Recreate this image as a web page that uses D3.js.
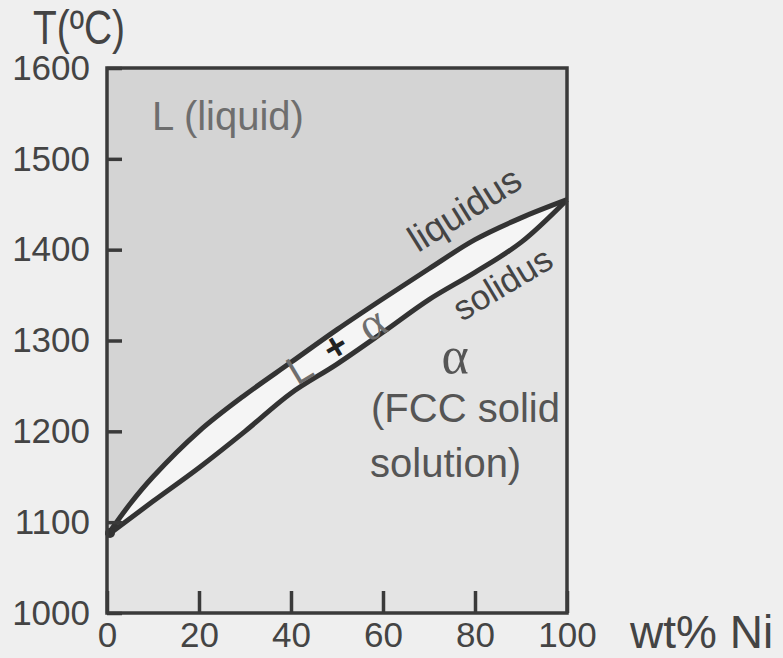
<!DOCTYPE html>
<html>
<head>
<meta charset="utf-8">
<script src="https://cdn.jsdelivr.net/npm/d3@7"></script>
<style>
  html, body { margin: 0; padding: 0; background: #efefef; }
  svg { display: block; }
</style>
</head>
<body>
<svg id="chart" width="783" height="658"></svg>
<script>
// Cu-Ni phase diagram
const wtNi      = [0, 5, 10, 20, 30, 40, 50, 60, 70, 80, 90, 100];
const liquidusT = [1085, 1120, 1150, 1200, 1240, 1276, 1312, 1346, 1379, 1411, 1435, 1455];
const solidusT  = [1085, 1104, 1123, 1160, 1200, 1242, 1274, 1309, 1345, 1375, 1408, 1455];

const xTicks = [0, 20, 40, 60, 80, 100];
const yTicks = [1000, 1100, 1200, 1300, 1400, 1500, 1600];

var svg = d3.select('#chart');

var scale =
{
    x: d3.scaleLinear().domain([0, 100]).range([107, 567]),
    y: d3.scaleLinear().domain([1000, 1600]).range([613, 68])
};

const points = wtNi.map((w, i) => ({w: w, liq: liquidusT[i], sol: solidusT[i]}));
const curve = d3.curveCatmullRom.alpha(0.5);

// alpha region = whole plot background
svg.append('rect')
    .attr('x', scale.x(0)).attr('y', scale.y(1600))
    .attr('width', scale.x(100) - scale.x(0))
    .attr('height', scale.y(1000) - scale.y(1600))
    .attr('fill', '#e4e4e4');

var liquidArea = d3.area().curve(curve)
    .x(d => scale.x(d.w))
    .y0(scale.y(1600))
    .y1(d => scale.y(d.liq));

var bandArea = d3.area().curve(curve)
    .x(d => scale.x(d.w))
    .y0(d => scale.y(d.sol))
    .y1(d => scale.y(d.liq));

svg.append('path').attr('d', liquidArea(points)).attr('fill', '#d4d4d4');
svg.append('path').attr('d', bandArea(points)).attr('fill', '#f5f5f5');

var lineGenerator = d3.line().curve(curve)
    .x(d => scale.x(d[0]))
    .y(d => scale.y(d[1]));

svg.append('path')
    .attr('d', lineGenerator(wtNi.map((w, i) => [w, liquidusT[i]])))
    .attr('fill', 'none').attr('stroke', '#333').attr('stroke-width', 5)
    .attr('stroke-linejoin', 'round');
svg.append('path')
    .attr('d', lineGenerator(wtNi.map((w, i) => [w, solidusT[i]])))
    .attr('fill', 'none').attr('stroke', '#333').attr('stroke-width', 5)
    .attr('stroke-linejoin', 'round');

// junction blob at the Cu end
svg.append('circle').attr('cx', scale.x(0) + 3).attr('cy', scale.y(1088)).attr('r', 5).attr('fill', '#333');

// axes, ticks pointing inwards
var xAxis = svg.append('g')
    .attr('transform', `translate(0,${scale.y(1000)})`)
    .call(d3.axisBottom(scale.x).tickValues(xTicks).tickFormat(d3.format('d')).tickSize(-22).tickPadding(9));
var yAxis = svg.append('g')
    .attr('transform', `translate(${scale.x(0)},0)`)
    .call(d3.axisLeft(scale.y).tickValues(yTicks).tickFormat(d3.format('d')).tickSize(-15).tickPadding(17));

[xAxis, yAxis].forEach(function(axis)
{
    axis.select('.domain').remove();
    axis.selectAll('line').attr('stroke', '#3a3a3a').attr('stroke-width', 3.5);
    axis.selectAll('text')
        .attr('fill', '#444')
        .style('font-family', '"Liberation Sans", Arial, sans-serif')
        .style('font-size', '35px');
});

// frame
svg.append('rect')
    .attr('x', scale.x(0)).attr('y', scale.y(1600))
    .attr('width', scale.x(100) - scale.x(0))
    .attr('height', scale.y(1000) - scale.y(1600))
    .attr('fill', 'none').attr('stroke', '#3a3a3a').attr('stroke-width', 3.5);

const sans = '"Liberation Sans", Arial, sans-serif';
const serif = '"Liberation Serif", "Times New Roman", serif';

svg.append('text')
    .attr('x', 33).attr('y', 44)
    .attr('textLength', 92).attr('lengthAdjust', 'spacingAndGlyphs')
    .style('font-family', sans).style('font-size', '48px').attr('fill', '#444')
    .text('T(ºC)');

svg.append('text')
    .attr('x', 630).attr('y', 648)
    .style('font-family', sans).style('font-size', '46px').attr('fill', '#444')
    .text('wt% Ni');

svg.append('text')
    .attr('x', 152).attr('y', 130)
    .style('font-family', sans).style('font-size', '40px').attr('fill', '#6e6e6e')
    .text('L (liquid)');

svg.append('text')
    .attr('transform', 'translate(418,253) rotate(-32)')
    .style('font-family', sans).style('font-size', '37px').attr('fill', '#444')
    .text('liquidus');

svg.append('text')
    .attr('transform', 'translate(462,322) rotate(-31)')
    .style('font-family', sans).style('font-size', '35px').attr('fill', '#444')
    .text('solidus');

var lpa = svg.append('g').attr('transform', 'translate(297,386) rotate(-31)');
lpa.append('text').attr('x', 0).attr('y', 0)
    .style('font-family', sans).style('font-size', '40px').attr('fill', '#6e6e6e').text('L');
lpa.append('text').attr('x', 42).attr('y', -1)
    .style('font-family', sans).style('font-size', '38px').style('font-weight', 'bold').attr('fill', '#222').text('+');
lpa.append('text').attr('x', 84).attr('y', 0)
    .style('font-family', serif).style('font-size', '46px').attr('fill', '#6e6e6e').text('α');

svg.append('text')
    .attr('x', 455).attr('y', 373).attr('text-anchor', 'middle')
    .style('font-family', serif).style('font-size', '52px').attr('fill', '#555')
    .text('α');

svg.append('text')
    .attr('x', 371).attr('y', 422)
    .style('font-family', sans).style('font-size', '40px').attr('fill', '#555')
    .text('(FCC solid');

svg.append('text')
    .attr('x', 370).attr('y', 477)
    .style('font-family', sans).style('font-size', '40px').attr('fill', '#555')
    .text('solution)');
</script>
</body>
</html>
